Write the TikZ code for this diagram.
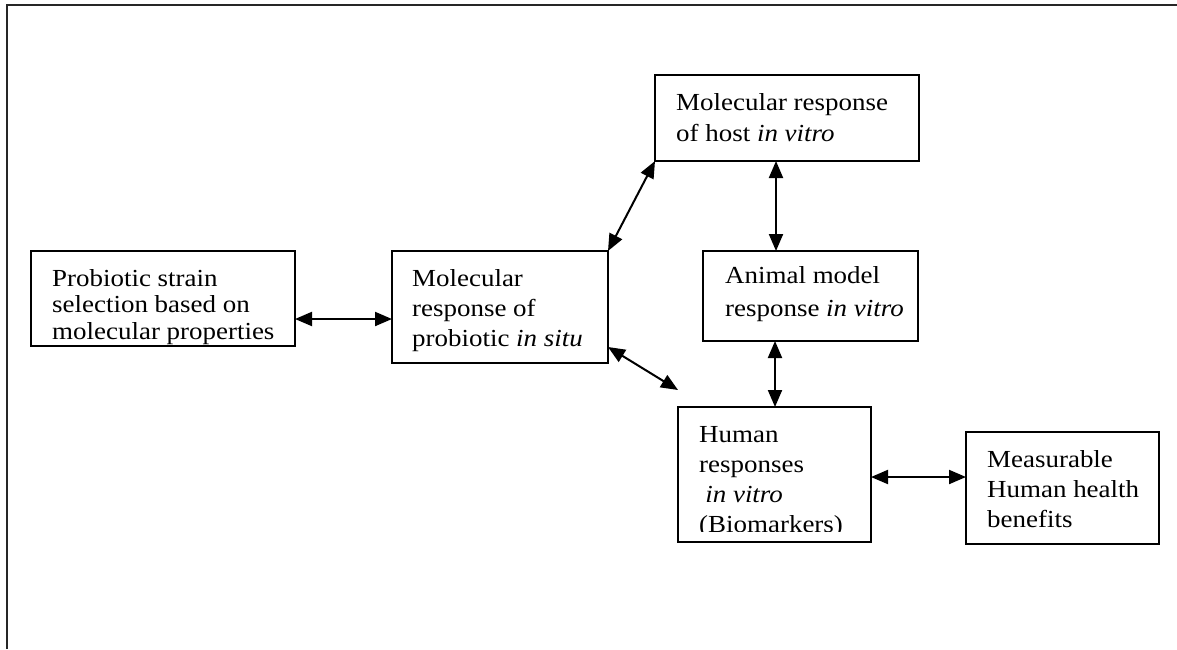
\documentclass[tikz,border=0pt]{standalone}
\usepackage{fontspec}
\setmainfont[FakeStretch=1.1]{Liberation Serif}
\usetikzlibrary{arrows.meta}
\tikzset{
  boxnode/.style={draw=black, line width=2pt, rectangle, inner sep=0pt, outer sep=0pt, anchor=north west},
  txt/.style={anchor=north west, inner sep=0pt, align=left},
  dbl/.style={line width=2pt, {Triangle[length=17pt,width=14pt]}-{Triangle[length=17pt,width=14pt]}},
  frameline/.style={line width=2.4pt, draw=black!85}
}
\newcommand{\fs}[1]{\fontsize{24.5pt}{#1pt}\selectfont}
\begin{document}
\begin{tikzpicture}[x=1pt,y=-1pt]
\useasboundingbox (0,0) rectangle (1177,649);
% outer frame (top and left only)
\draw[frameline] (7,649) -- (7,5) -- (1177,5);
% boxes
\node[boxnode, minimum width=264pt, minimum height=95pt] (b1) at (31,251) {};
\node[boxnode, minimum width=216pt, minimum height=112pt] (b2) at (392,251) {};
\node[boxnode, minimum width=264pt, minimum height=86pt] (b3) at (655,75) {};
\node[boxnode, minimum width=215pt, minimum height=90pt] (b4) at (703,251) {};
\node[boxnode, minimum width=193pt, minimum height=135pt] (b5) at (678,407) {};
\node[boxnode, minimum width=193pt, minimum height=112pt] (b6) at (966,432) {};
% texts (top = first baseline - 0.7*baselineskip)
\node[txt, font=\fs{26.8}] (t1) at (52,267.2) {\strut Probiotic strain\\selection based on\\molecular properties};
\node[txt, font=\fs{30}] (t2) at (412,265) {\strut Molecular\\response of\\probiotic \textit{in situ}};
\node[txt, font=\fs{31}] (t3) at (676,88.3) {\strut Molecular response\\of host \textit{in vitro}};
\node[txt, font=\fs{33}] (t4) at (725,259.9) {\strut Animal model\\response \textit{in vitro}};
\begin{scope}
\clip (678,407) rectangle (871,531);
\node[txt, font=\fs{30}] (t5) at (699,421) {\strut Human\\responses\\\hspace{0.25em}\textit{in vitro}\\(Biomarkers)};
\end{scope}
\node[txt, font=\fs{30}] (t6) at (987,446) {\strut Measurable\\Human health\\benefits};
% helper coordinates
\coordinate (r1) at (0,319);
\coordinate (r2) at (0,347);
\coordinate (fe) at (678,390);
\coordinate (v1) at (776,0);
\coordinate (v2) at (775,0);
\coordinate (r3) at (0,477);
% connectors
\draw[dbl] (b1.east |- r1) -- (b2.west |- r1);
\draw[dbl] (b2.north east) -- (b3.south west);
\draw[dbl] (b2.east |- r2) -- (fe);
\draw[dbl] (b3.south -| v1) -- (b4.north -| v1);
\draw[dbl] (b4.south -| v2) -- (b5.north -| v2);
\draw[dbl] (b5.east |- r3) -- (b6.west |- r3);
\end{tikzpicture}
\end{document}
